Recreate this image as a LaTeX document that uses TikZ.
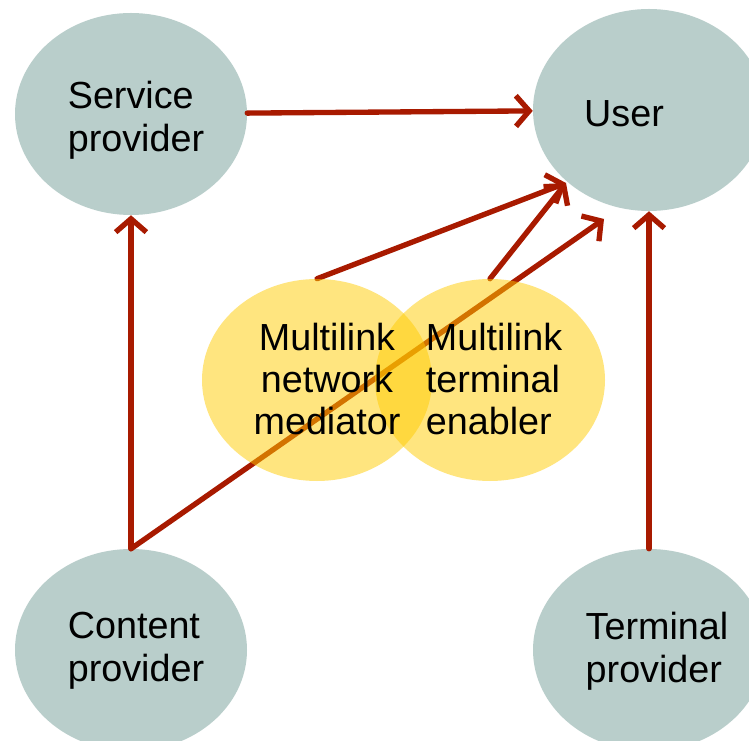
\documentclass[tikz,border=0pt]{standalone}
\usepackage{fontspec}
\setmainfont{Liberation Sans}
\usetikzlibrary{shapes.geometric,arrows.meta}
\definecolor{nodegrey}{RGB}{185,206,203}
\definecolor{arrred}{RGB}{168,26,0}
\definecolor{ylw}{RGB}{255,204,0}
\tikzset{
  actor/.style={ellipse, fill=nodegrey, draw=none, inner sep=0pt, minimum width=174pt, minimum height=151.5pt},
  role/.style={ellipse, fill=ylw, fill opacity=0.5, draw=none, inner sep=0pt, minimum width=172.5pt, minimum height=151.5pt},
  lbl/.style={font=\fontsize{28.3}{32.5}\selectfont, text=black, inner sep=0pt},
  flow/.style={draw=arrred, line width=4pt, line cap=round, line join=round, -{Straight Barb[length=10pt,width=23pt]}},
}
\begin{document}
\begin{tikzpicture}[x=0.75pt,y=-0.75pt]
\clip (0,0) rectangle (749,741);
\fill[white] (0,0) rectangle (749,741);
% grey actors
\node[actor] (svc) at (131,114) {};
\node[actor] (user) at (649,110) {};
\node[actor] (cont) at (131,650) {};
\node[actor] (term) at (649,650) {};
% yellow roles (anchors)
\path (317,380) node[role, fill opacity=0] (med) {};
\path (490,380) node[role, fill opacity=0] (enb) {};
\coordinate (tipA) at (566,183);
\coordinate (tipB) at (604,219);
% connectors
\draw[flow] (svc) -- (user);
\draw[flow] (cont.north) -- (svc.south);
\draw[flow] (term.north) -- (user.south);
\draw[flow] (med.north) -- (tipA);
\draw[flow] (enb.north) -- (tipA);
\draw[flow] (cont.north) -- (tipB);
% yellow fills over the crossing line
\node[role] (medf) at (med) {};
\node[role] (enbf) at (enb) {};
% texts
\node[lbl, align=left] (svct) at (136,120) {Service\\provider};
\node[lbl] (usert) at (624,114) {User};
\node[lbl, align=left] (contt) at (136,651) {Content\\provider};
\node[lbl, align=left] (termt) at (657,651) {Terminal\\provider};
\node[lbl, align=center, font=\fontsize{28.3}{31.5}\selectfont] (medt) at (327,379) {Multilink\\network\\mediator};
\node[lbl, align=left, font=\fontsize{28.3}{31.5}\selectfont] (enbt) at (494,379) {Multilink\\terminal\\enabler};
\end{tikzpicture}
\end{document}
